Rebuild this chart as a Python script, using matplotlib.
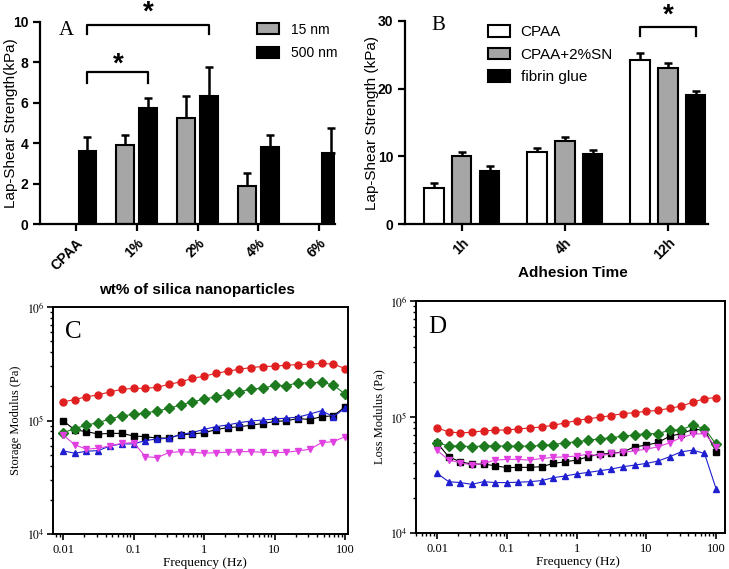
import numpy as np
import matplotlib
matplotlib.use('Agg')
import matplotlib.pyplot as plt
from matplotlib.patches import Patch

plt.rcParams['font.family'] = ['Liberation Sans', 'DejaVu Sans']
plt.rcParams['mathtext.fontset'] = 'stix'

# Panel A: lap-shear strength vs silica wt%
cats_A = ['CPAA', '1%', '2%', '4%', '6%']
nm500 = [3.61, 5.72, 6.33, 3.82, 3.53]
nm500_err = [0.71, 0.49, 1.41, 0.58, 1.23]
nm15_idx = [1, 2, 3]
nm15 = [3.90, 5.26, 1.89]
nm15_err = [0.50, 1.08, 0.61]

# Panel B: lap-shear strength vs adhesion time
hours = ['1h', '4h', '12h']
cpaa = [5.3, 10.7, 24.2]
cpaa_err = [0.8, 0.6, 1.0]
cpaa_sn = [10.0, 12.2, 23.1]
cpaa_sn_err = [0.7, 0.7, 0.7]
fibrin = [7.9, 10.3, 19.1]
fibrin_err = [0.7, 0.6, 0.6]

# Panels C/D: frequency sweeps (kPa)
freq = [0.01, 0.0147, 0.0215, 0.0316, 0.0464, 0.0681, 0.1, 0.147, 0.215, 0.316,
        0.464, 0.681, 1, 1.47, 2.15, 3.16, 4.64, 6.81, 10, 14.7, 21.5, 31.6,
        46.4, 68.1, 100]

g_red = [146, 153, 162, 168, 179, 188, 192, 192, 196, 208, 219, 235, 246, 260,
         272, 283, 293, 299, 301, 307, 311, 314, 318, 314, 287]
g_green = [78, 85, 91, 96, 103, 110, 113, 117, 121, 128, 137, 146, 154, 162,
           171, 179, 189, 192, 205, 202, 216, 214, 218, 205, 171]
g_black = [99.5, 82.6, 79.8, 76, 77, 77, 73, 72, 70, 70, 75, 76, 78, 83, 86.5,
           88, 91, 94, 98, 99.5, 104, 102, 108, 110, 132]
g_blue = [54, 51.5, 53.6, 54.3, 59.7, 62.2, 62.2, 66.5, 68.8, 69.7, 75.5, 78.2,
          83.6, 88.2, 91.3, 95.7, 99, 101, 103, 105, 107, 114, 122, 108, 128]
g_magenta = [74.6, 61, 55.8, 57, 59.7, 63, 63.8, 48.1, 47.1, 52.1, 53.2, 52.5,
             51.5, 52.1, 52.5, 53.2, 53.2, 52.5, 52.1, 52.5, 54, 55.8, 63.8, 65.2, 72]

l_red = [80.5, 74.4, 72.9, 73.9, 75.9, 76.9, 77.4, 78.9, 80.5, 82, 84.9, 88.9,
         93.1, 96.8, 99.4, 103, 107, 109, 112, 114, 119, 124, 134, 144, 147]
l_green = [59.9, 56.4, 56.4, 55.3, 56.4, 56.4, 56.1, 56.1, 56.1, 56.8, 57.9, 59.9,
           61.1, 63.1, 64.8, 66.5, 68.2, 70.1, 71.9, 71.9, 76.9, 77.9, 84.9, 79.4, 58.3]
l_black = [59.9, 45.4, 41.1, 39.3, 39.3, 38, 36.6, 36.8, 36.8, 37.3, 39.8, 41.1,
           42.5, 45.4, 47.9, 48.5, 50.1, 55.3, 57.2, 60.3, 68.2, 71.9, 77.9, 77.9, 50.1]
l_magenta = [51.8, 42.5, 40.4, 38.5, 39.8, 42.5, 43.1, 43.1, 42.5, 43.9, 44.8, 45.4,
             46, 47.9, 46, 48.5, 49.5, 51.1, 52.8, 55.3, 59.9, 66.5, 71, 71.9, 55.3]
l_blue = [32.7, 27.7, 27.2, 26.3, 27.7, 27.2, 27.2, 27.4, 27.7, 28.3, 30, 31, 32.3,
          33.3, 34.4, 35.6, 37.3, 38.5, 39.8, 41.7, 45.4, 50.1, 51.8, 48.5, 24]

GRAY = '#a6a6a6'
fig = plt.figure(figsize=(7.29, 5.69), dpi=100)
W, H = 729, 569


def px_axes(l, t, r, b):
    return fig.add_axes([l / W, 1 - b / H, (r - l) / W, (b - t) / H])


def graphpad_style(ax):
    for s in ['top', 'right']:
        ax.spines[s].set_visible(False)
    for s in ['left', 'bottom']:
        ax.spines[s].set_linewidth(1.6)
    ax.tick_params(width=1.6, length=5, direction='out')
    for lab in ax.get_yticklabels() + ax.get_xticklabels():
        lab.set_fontweight('bold')
        lab.set_fontsize(10)


def up_err(ax, x, y, e):
    ax.errorbar(x, y, yerr=[np.zeros(len(e)), e], fmt='none', ecolor='black',
                elinewidth=1.8, capsize=2.8, capthick=1.8, zorder=1)


# ---------- A ----------
axA = px_axes(40, 21.7, 335, 224)
xA = np.arange(len(cats_A))
wA = 0.29
up_err(axA, xA + 0.19, nm500, nm500_err)
up_err(axA, np.array(nm15_idx) - 0.19, nm15, nm15_err)
axA.bar(xA + 0.19, nm500, wA, color='black', edgecolor='black', linewidth=1.5, zorder=2)
axA.bar(np.array(nm15_idx) - 0.19, nm15, wA, color=GRAY, edgecolor='black', linewidth=1.5, zorder=2)
axA.set_xlim(-0.59, 4.26)
axA.set_ylim(0, 10)
axA.set_yticks([0, 2, 4, 6, 8, 10])
axA.set_xticks(xA)
axA.set_xticklabels(cats_A, rotation=45, ha='right', rotation_mode='anchor')
graphpad_style(axA)
axA.set_ylabel('Lap-Shear Strength(kPa)', fontsize=11)
axA.yaxis.set_label_coords(-0.075, 0.5)
axA.set_xlabel('wt% of silica nanoparticles', fontsize=11, fontweight='bold')
axA.xaxis.set_label_coords(0.532, -0.29)
# brackets
for x0, x1, yb, yt, ys in [(0.19, 1.19, 6.95, 7.53, 7.9), (0.19, 2.19, 9.4, 9.83, 10.45)]:
    axA.plot([x0, x0, x1, x1], [yb, yt, yt, yb], color='black', lw=1.6, clip_on=False)
    axA.text((x0 + x1) / 2, ys, '*', fontsize=20, fontweight='bold', ha='center', va='center')
axA.text(0.09, 0.955, 'A', transform=axA.transAxes, fontsize=15,
         family=['Liberation Serif'], ha='center', va='center')
axA.legend(handles=[Patch(facecolor=GRAY, edgecolor='black', linewidth=1.5, label='15 nm'),
                    Patch(facecolor='black', edgecolor='black', linewidth=1.5, label='500 nm')],
           loc='upper left', bbox_to_anchor=(0.712, 1.03), frameon=False, fontsize=10,
           handlelength=1.6, handleheight=0.8, handletextpad=0.86, labelspacing=0.7, borderpad=0)

# ---------- B ----------
axB = px_axes(405, 21, 708, 224)
xB = np.arange(len(hours))
wB = 0.19
for off, vals, errs, col in [(-0.27, cpaa, cpaa_err, 'white'),
                             (0.0, cpaa_sn, cpaa_sn_err, GRAY),
                             (0.27, fibrin, fibrin_err, 'black')]:
    up_err(axB, xB + off, vals, errs)
    axB.bar(xB + off, vals, wB, color=col, edgecolor='black', linewidth=1.5, zorder=2)
axB.set_xlim(-0.55, 2.39)
axB.set_ylim(0, 30)
axB.set_yticks([0, 10, 20, 30])
axB.set_xticks(xB)
axB.set_xticklabels(hours, rotation=45, ha='right', rotation_mode='anchor')
graphpad_style(axB)
axB.set_ylabel('Lap-Shear Strength (kPa)', fontsize=11)
axB.yaxis.set_label_coords(-0.085, 0.5)
axB.set_xlabel('Adhesion Time', fontsize=11, fontweight='bold')
axB.xaxis.set_label_coords(0.554, -0.207)
axB.plot([1.73, 1.73, 2.27, 2.27], [27.8, 29.1, 29.1, 27.8], color='black', lw=1.6, clip_on=False)
axB.text(2.0, 30.85, '*', fontsize=20, fontweight='bold', ha='center', va='center')
axB.text(0.11, 0.98, 'B', transform=axB.transAxes, fontsize=15,
         family=['Liberation Serif'], ha='center', va='center')
axB.legend(handles=[Patch(facecolor='white', edgecolor='black', linewidth=1.5, label='CPAA'),
                    Patch(facecolor=GRAY, edgecolor='black', linewidth=1.5, label='CPAA+2%SN'),
                    Patch(facecolor='black', edgecolor='black', linewidth=1.5, label='fibrin glue')],
           loc='upper left', bbox_to_anchor=(0.2475, 1.017), frameon=False, fontsize=11,
           handlelength=1.44, handleheight=0.8, handletextpad=0.72, labelspacing=0.55, borderpad=0)


# ---------- C & D ----------
def rheo(ax, series, ylabel, letter, xlim):
    for vals, col, mk in series:
        ax.plot(freq, np.array(vals) * 1000, color=col, marker=mk, markersize=5,
                lw=0.8, markeredgecolor=col)
    ax.set_xscale('log')
    ax.set_yscale('log')
    ax.set_xlim(*xlim)
    ax.set_ylim(1e4, 1e6)
    ax.set_xticks([0.01, 0.1, 1, 10, 100])
    ax.set_xticklabels(['0.01', '0.1', '1', '10', '100'])
    ax.set_yticks([1e4, 1e5, 1e6])
    ax.set_yticklabels(['$10^4$', '$10^5$', '$10^6$'])
    for s in ax.spines.values():
        s.set_linewidth(1.4)
    ax.tick_params(which='major', direction='out', length=4, width=1.2, labelsize=9)
    ax.tick_params(axis='y', which='major', labelsize=8.5, pad=2)
    ax.tick_params(which='minor', direction='out', length=2.5, width=1.0)
    for lab in ax.get_xticklabels() + ax.get_yticklabels():
        lab.set_family(['Liberation Serif'])
    ax.set_xlabel('Frequency (Hz)', fontsize=9.5, family=['Liberation Serif'])
    ax.set_ylabel(ylabel, fontsize=9, family=['Liberation Serif'])
    ax.text(0.07, 0.89, letter, transform=ax.transAxes, fontsize=18,
            family=['Liberation Serif'], ha='center', va='center')


axC = px_axes(53, 307, 348, 534)
rheo(axC, [(g_black, 'black', 's'), (g_red, '#e02020', 'o'), (g_green, '#1e7a1e', 'D'),
           (g_blue, '#1f1fd0', '^'), (g_magenta, '#e040e0', 'v')],
     'Storage Modulus (Pa)', 'C', (0.0072, 110))
axC.xaxis.set_label_coords(0.515, -0.1)
axC.yaxis.set_label_coords(-0.105, 0.5)

axD = px_axes(416, 301, 725, 533)
rheo(axD, [(l_black, 'black', 's'), (l_red, '#e02020', 'o'), (l_green, '#1e7a1e', 'D'),
           (l_magenta, '#e040e0', 'v'), (l_blue, '#1f1fd0', '^')],
     'Loss Modulus (Pa)', 'D', (0.005, 134))
axD.xaxis.set_label_coords(0.524, -0.1)
axD.yaxis.set_label_coords(-0.1, 0.5)

fig.savefig('out.png', dpi=100)
